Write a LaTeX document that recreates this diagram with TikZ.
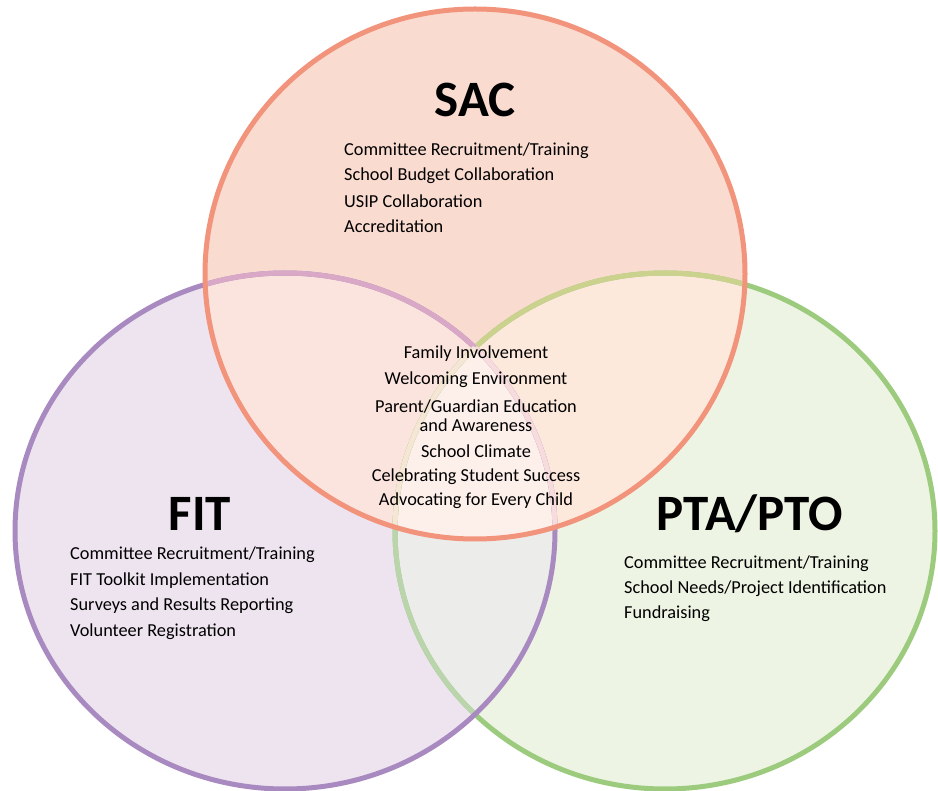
\documentclass[tikz,border=0pt]{standalone}
\usepackage{fontspec}
\setmainfont{Carlito}

\definecolor{sacline}{HTML}{F2937C}
\definecolor{fitline}{HTML}{A88AC0}
\definecolor{ptoline}{HTML}{9CCB7E}
\definecolor{saconly}{HTML}{FADBD0}
\definecolor{fitonly}{HTML}{EEE4F0}
\definecolor{ptoonly}{HTML}{EEF4E4}
\definecolor{sacfit}{HTML}{FCE4DE}
\definecolor{sacpto}{HTML}{FDE8DC}
\definecolor{fitpto}{HTML}{ECECEA}
\definecolor{allthree}{HTML}{FDF0EB}
\definecolor{fitinsac}{HTML}{D9A8C6}
\definecolor{ptoinsac}{HTML}{CAD28E}
\definecolor{ptoinfit}{HTML}{BAD4AC}
\definecolor{fitfaint}{HTML}{F6DCDC}
\definecolor{ptofaint}{HTML}{F6E6D6}

\tikzset{
  ring/.style={line width=5pt},
  title/.style={font=\fontsize{51}{51}\selectfont\bfseries, inner sep=0pt},
  item/.style={font=\fontsize{18.3}{22}\selectfont, inner sep=0pt, anchor=west},
  shared/.style={font=\fontsize{18.3}{22}\selectfont, inner sep=0pt},
  sacshape/.style={x radius=270pt, y radius=265pt},
  sideshape/.style={x radius=270pt, y radius=258pt},
}

\begin{document}
\begin{tikzpicture}[x=1pt,y=-1pt]
\useasboundingbox (0,0) rectangle (938,791);

\coordinate (sacc) at (475,274);
\coordinate (fitc) at (285,531);
\coordinate (ptoc) at (665,531);

% fills of the seven regions
\fill[saconly] (sacc) ellipse[sacshape];
\fill[fitonly] (fitc) ellipse[sideshape];
\fill[ptoonly] (ptoc) ellipse[sideshape];
\begin{scope}
  \clip (sacc) ellipse[sacshape];
  \fill[sacfit] (fitc) ellipse[sideshape];
  \fill[sacpto] (ptoc) ellipse[sideshape];
\end{scope}
\begin{scope}
  \clip (fitc) ellipse[sideshape];
  \fill[fitpto] (ptoc) ellipse[sideshape];
  \clip (sacc) ellipse[sacshape];
  \fill[allthree] (ptoc) ellipse[sideshape];
\end{scope}

% outlines, faded where covered
\draw[ring, ptoline] (ptoc) ellipse[sideshape];
\begin{scope}
  \clip (fitc) ellipse[sideshape];
  \draw[ring, ptoinfit] (ptoc) ellipse[sideshape];
\end{scope}
\draw[ring, fitline] (fitc) ellipse[sideshape];
\begin{scope}
  \clip (sacc) ellipse[sacshape];
  \draw[ring, ptoinsac] (ptoc) ellipse[sideshape];
  \draw[ring, fitinsac] (fitc) ellipse[sideshape];
\end{scope}
\begin{scope}
  \clip (sacc) ellipse[sacshape];
  \clip (ptoc) ellipse[sideshape];
  \draw[ring, fitfaint] (fitc) ellipse[sideshape];
\end{scope}
\begin{scope}
  \clip (sacc) ellipse[sacshape];
  \clip (fitc) ellipse[sideshape];
  \draw[ring, ptofaint] (ptoc) ellipse[sideshape];
\end{scope}
\draw[ring, sacline] (sacc) ellipse[sacshape];

% SAC
\node[title] (sac) at (475,100) {SAC};
\foreach \t [count=\i] in {Committee Recruitment/Training, School Budget Collaboration,
    USIP Collaboration, Accreditation}
  \node[item] (sac\i) at (344,125+25.3*\i) {\t};

% FIT
\node[title] (fit) at (200,514) {FIT};
\foreach \t [count=\i] in {Committee Recruitment/Training, FIT Toolkit Implementation,
    Surveys and Results Reporting, Volunteer Registration}
  \node[item] (fit\i) at (70,529.5+25.5*\i) {\t};

% PTA/PTO
\node[title] (pto) at (750,514) {PTA/PTO};
\foreach \t [count=\i] in {Committee Recruitment/Training, School Needs/Project Identification,
    Fundraising}
  \node[item] (pto\i) at (624,538.5+25*\i) {\t};

% shared middle
\node[shared] (mid1) at (476,354) {Family Involvement};
\node[shared] (mid2) at (476,380) {Welcoming Environment};
\node[shared] (mid3) at (476,407) {Parent/Guardian Education};
\node[shared] (mid4) at (476,425) {and Awareness};
\node[shared] (mid5) at (476,451) {School Climate};
\node[shared] (mid6) at (476,477) {Celebrating Student Success};
\node[shared] (mid7) at (476,501) {Advocating for Every Child};
\end{tikzpicture}
\end{document}
